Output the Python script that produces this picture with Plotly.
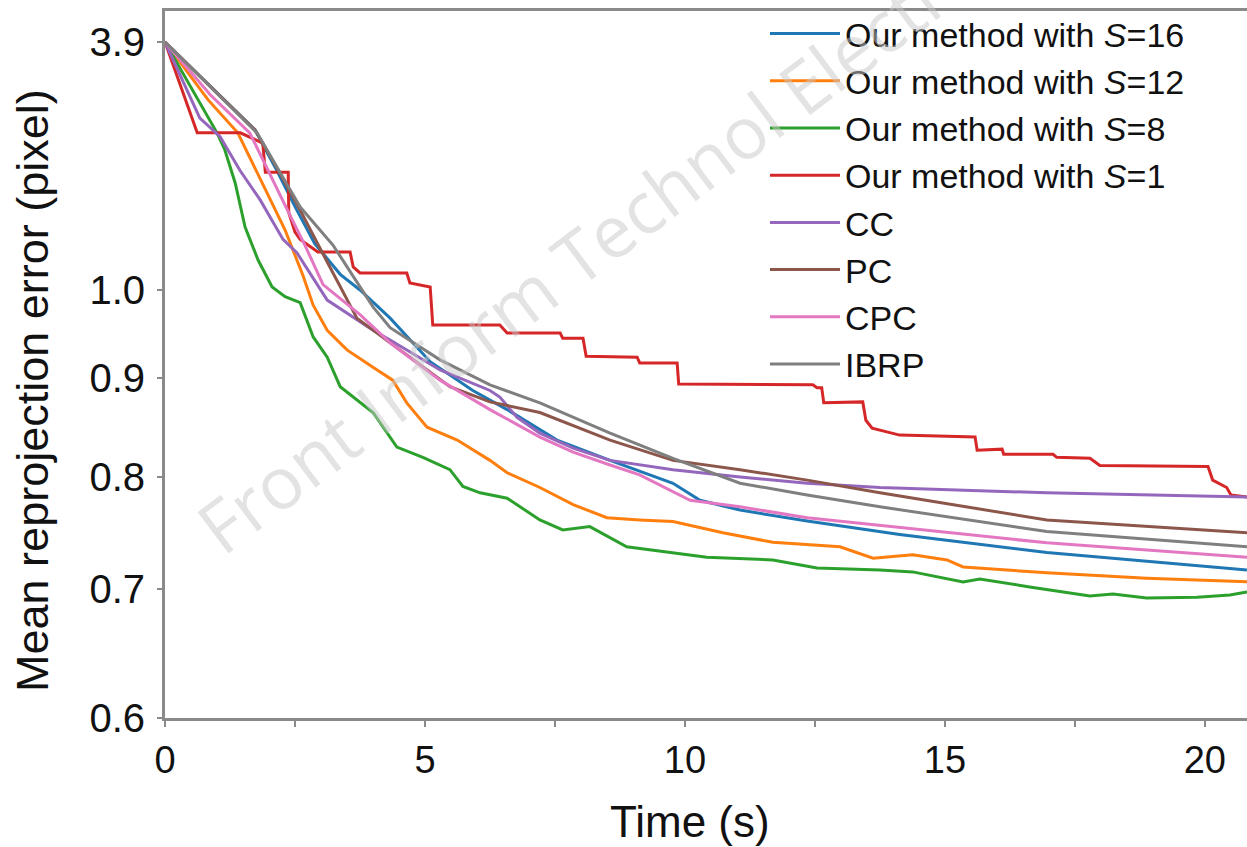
import numpy as np
import plotly.graph_objects as go

# ---------------- data (time in s, mean reprojection error in pixel) ----------------
t_s16 = [0, 1.73, 2.12, 2.5, 2.88, 3.37, 3.75, 4.33, 5.10, 5.92, 6.58, 7.54, 8.56, 9.77, 10.29, 11.06, 12.35, 14.13, 16.96, 20.81]
e_s16 = [3.90, 2.41, 1.96, 1.58, 1.29, 1.09, 1.00, 0.967, 0.918, 0.887, 0.867, 0.836, 0.816, 0.794, 0.778, 0.769, 0.759, 0.747, 0.731, 0.716]

t_s12 = [0, 0.83, 1.40, 1.87, 2.31, 2.65, 2.85, 3.12, 3.50, 4.0, 4.38, 4.65, 5.04, 5.62, 6.25, 6.58, 7.21, 7.85, 8.50, 9.13,
         9.77, 10.73, 11.69, 12.98, 13.62, 14.38, 15.04, 15.35, 16.96, 18.88, 20.81]
e_s12 = [3.90, 2.84, 2.37, 1.80, 1.39, 1.086, 0.982, 0.953, 0.931, 0.912, 0.898, 0.874, 0.849, 0.836, 0.816, 0.804, 0.790, 0.774, 0.762, 0.760,
         0.7585, 0.7485, 0.740, 0.736, 0.726, 0.729, 0.7246, 0.7185, 0.7135, 0.709, 0.706]

t_s8 = [0, 1.0, 1.15, 1.35, 1.54, 1.79, 2.06, 2.31, 2.60, 2.85, 3.12, 3.37, 4.0, 4.46, 4.96, 5.48, 5.73, 6.06, 6.58, 7.21,
        7.65, 8.17, 8.88, 10.42, 11.69, 12.54, 13.75, 14.38, 15.35, 15.67, 16.63, 17.79, 18.23, 18.88, 19.85, 20.48, 20.81]
e_s8 = [3.90, 2.37, 2.16, 1.80, 1.413, 1.179, 1.017, 0.992, 0.985, 0.9455, 0.923, 0.891, 0.864, 0.829, 0.819, 0.807, 0.791, 0.785, 0.780, 0.760,
        0.751, 0.754, 0.736, 0.727, 0.7246, 0.7177, 0.716, 0.7143, 0.7058, 0.7083, 0.7016, 0.694, 0.6956, 0.6923, 0.6931, 0.6948, 0.6973]

t_s1 = [0, 0.62, 1.45, 1.88, 1.93, 2.37, 2.38, 2.5, 2.6, 2.94, 3.56, 3.62, 3.75, 4.65, 4.71, 5.10, 5.15, 6.44, 6.58, 7.6,
        7.65, 8.04, 8.1, 9.08, 9.13, 9.85, 9.88, 12.46, 12.54, 12.63, 12.67, 13.42, 13.48, 13.6, 14.13, 15.58, 15.62, 16.1,
        16.13, 17.08, 17.15, 17.79, 17.98, 20.06, 20.15, 20.42, 20.5, 20.81]
e_s1 = [3.90, 2.37, 2.37, 2.24, 1.91, 1.91, 1.53, 1.375, 1.32, 1.232, 1.232, 1.135, 1.098, 1.098, 1.039, 1.017, 0.959, 0.959, 0.950, 0.950,
        0.944, 0.944, 0.924, 0.923, 0.9166, 0.9166, 0.894, 0.893, 0.890, 0.890, 0.874, 0.875, 0.856, 0.848, 0.841, 0.839, 0.826, 0.827,
        0.822, 0.822, 0.819, 0.818, 0.811, 0.810, 0.797, 0.790, 0.783, 0.781]

t_cc = [0, 0.67, 1.06, 1.44, 1.83, 2.27, 2.54, 3.12, 4.0, 4.33, 5.29, 6.25, 6.44, 6.77, 7.21, 7.85, 8.56, 9.77, 11.06, 12.35, 13.75, 16.96, 20.81]
e_cc = [3.90, 2.57, 2.32, 1.93, 1.64, 1.32, 1.225, 0.988, 0.953, 0.942, 0.909, 0.887, 0.880, 0.859, 0.843, 0.828, 0.816, 0.807, 0.800, 0.794, 0.790, 0.785, 0.781]

t_pc = [0, 1.73, 2.12, 2.6, 3.12, 3.69, 4.33, 5.48, 6.25, 7.21, 8.56, 9.77, 11.06, 12.35, 13.75, 16.96, 20.81]
e_pc = [3.90, 2.41, 1.99, 1.55, 1.166, 0.967, 0.939, 0.891, 0.875, 0.864, 0.836, 0.816, 0.807, 0.797, 0.785, 0.760, 0.7485]

t_cpc = [0, 0.87, 1.63, 2.02, 2.40, 2.69, 3.04, 3.75, 4.33, 5.29, 6.25, 7.21, 7.85, 8.56, 9.13, 10.10, 11.06, 12.35, 14.13, 16.96, 20.81]
e_cpc = [3.90, 2.92, 2.37, 1.88, 1.51, 1.28, 1.03, 0.971, 0.939, 0.898, 0.867, 0.839, 0.824, 0.8115, 0.802, 0.778, 0.772, 0.762, 0.753, 0.7395, 0.727]

t_ibrp = [0, 1.77, 2.6, 3.23, 4.0, 4.33, 5.29, 6.25, 7.21, 8.56, 9.77, 11.06, 12.35, 13.75, 16.96, 20.81]
e_ibrp = [3.90, 2.37, 1.577, 1.28, 0.980, 0.956, 0.920, 0.893, 0.874, 0.843, 0.818, 0.794, 0.783, 0.772, 0.7495, 0.736]

series_names = ["Our method with <i>S</i>=16", "Our method with <i>S</i>=12", "Our method with <i>S</i>=8",
                "Our method with <i>S</i>=1", "CC", "PC", "CPC", "IBRP"]
series_t = [t_s16, t_s12, t_s8, t_s1, t_cc, t_pc, t_cpc, t_ibrp]
series_e = [e_s16, e_s12, e_s8, e_s1, e_cc, e_pc, e_cpc, e_ibrp]
colors = ["#1f77b4", "#ff7f0e", "#2ca02c", "#d62728", "#9467bd", "#8c564b", "#e377c2", "#7f7f7f"]

y_tick_vals = [0.6, 0.7, 0.8, 0.9, 1.0, 3.9]
y_tick_text = ["0.6", "0.7", "0.8", "0.9", "1.0", "3.9"]
x_tick_vals = [0, 2.5, 5, 7.5, 10, 12.5, 15, 17.5, 20]
x_tick_text = ["0", "", "5", "", "10", "", "15", "", "20"]

# broken y scale: logarithmic below 1.0, compressed logarithmic above 1.0
K_UPPER = 0.2174


def ymap(v):
    v = np.asarray(v, dtype=float)
    return np.where(v <= 1.0, np.log(v), K_UPPER * np.log(v))


FONT = "Liberation Sans, Arial, Helvetica, sans-serif"
AXIS_GRAY = "#8a8a8a"

fig = go.Figure()
for name, tt, ee, c in zip(series_names, series_t, series_e, colors):
    fig.add_trace(go.Scatter(x=tt, y=ymap(ee), mode="lines", name=name,
                             line=dict(color=c, width=3)))

fig.add_annotation(text="Front Inform Technol Electron", xref="paper", yref="paper",
                   x=0.4085, y=0.686, xanchor="center", yanchor="middle", showarrow=False,
                   textangle=-37,
                   font=dict(family="Open Sans, sans-serif", size=72, color="rgba(200,200,200,0.5)"))

fig.add_annotation(text="Time (s)", xref="paper", yref="paper", x=0.485, y=-0.147,
                   xanchor="center", yanchor="middle", showarrow=False,
                   font=dict(family=FONT, size=44, color="#111"))
fig.add_annotation(text="Mean reprojection error (pixel)", xref="paper", yref="paper",
                   x=-0.122, y=0.464, xanchor="center", yanchor="middle", showarrow=False,
                   textangle=-90, font=dict(family=FONT, size=45, color="#111"))

fig.update_layout(
    width=1247, height=847,
    margin=dict(l=165, r=0, t=11, b=129, autoexpand=False),
    paper_bgcolor="white", plot_bgcolor="white",
    font=dict(family=FONT, color="#111"),
    showlegend=True,
    legend=dict(x=0.5545, y=1.0085, xanchor="left", yanchor="top",
                bgcolor="rgba(0,0,0,0)", itemwidth=70,
                font=dict(family=FONT, size=34, color="#111"),
                tracegroupgap=0),
    xaxis=dict(range=[0, 20.81], tickvals=x_tick_vals, ticktext=x_tick_text,
               automargin=False,
               showgrid=False, zeroline=False, showline=True, linecolor=AXIS_GRAY,
               linewidth=3, mirror=True, ticks="outside", ticklen=6, tickwidth=2,
               tickcolor=AXIS_GRAY, tickfont=dict(family=FONT, size=38, color="#111")),
    yaxis=dict(range=[float(np.log(0.6)), 0.333], tickvals=ymap(y_tick_vals).tolist(),
               ticktext=y_tick_text, automargin=False, showgrid=False, zeroline=False, showline=True,
               linecolor=AXIS_GRAY, linewidth=3, ticks="outside", ticklen=5, tickwidth=2,
               tickcolor=AXIS_GRAY, ticklabelstandoff=4,
               tickfont=dict(family=FONT, size=40, color="#111")),
)

fig.write_html("out.html", config={"displayModeBar": False},
               post_script="document.body.style.margin='0px';")
